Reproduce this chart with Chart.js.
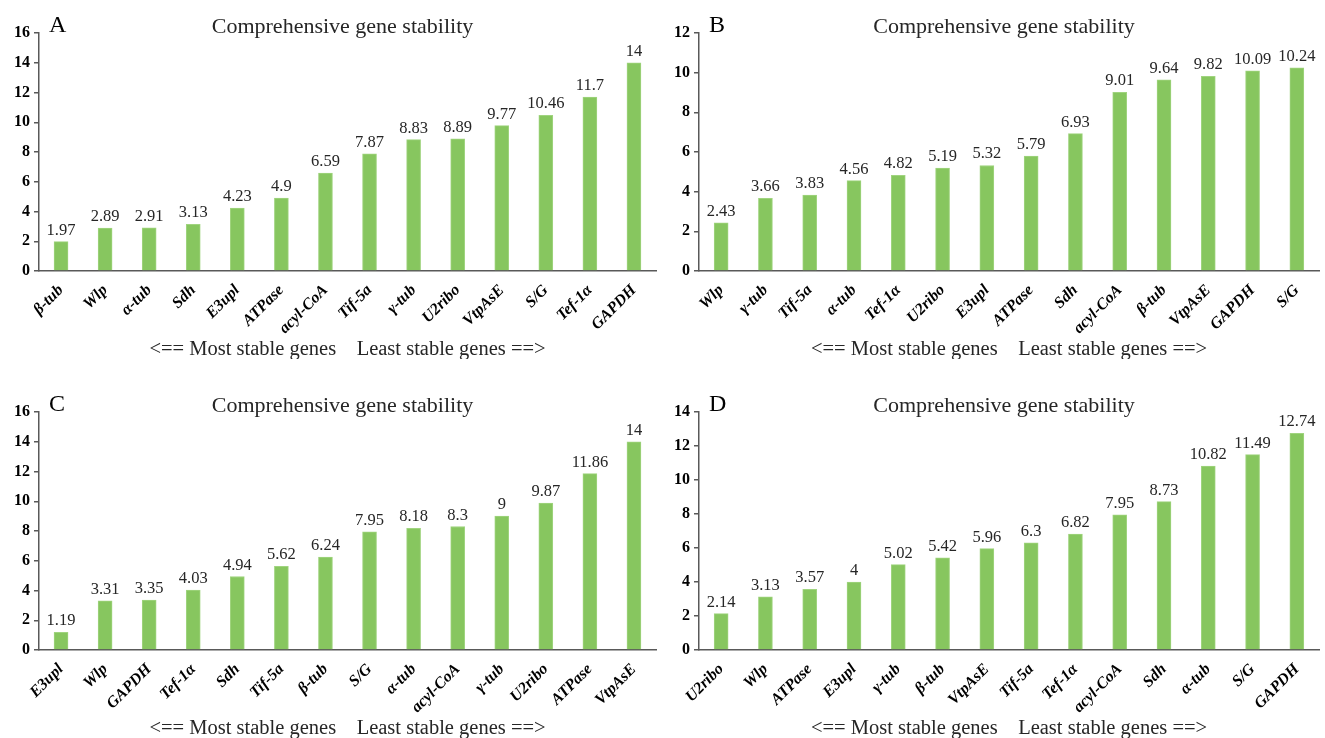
<!DOCTYPE html>
<html><head><meta charset="utf-8">
<script src="https://cdn.jsdelivr.net/npm/chart.js@4/dist/chart.umd.min.js"></script>
<style>
body{margin:0;background:#fff;width:1325px;height:738px;position:relative;overflow:hidden}
.p{position:absolute}
</style></head><body>
<div class="p" style="left:0;top:0;width:662px;height:359px"><canvas id="cA"></canvas></div>
<div class="p" style="left:660px;top:0;width:665px;height:359px"><canvas id="cB"></canvas></div>
<div class="p" style="left:0;top:379px;width:662px;height:359px"><canvas id="cC"></canvas></div>
<div class="p" style="left:660px;top:379px;width:665px;height:359px"><canvas id="cD"></canvas></div>
<script>
const catsA = ['β-tub','Wlp','α-tub','Sdh','E3upl','ATPase','acyl-CoA','Tif-5a','γ-tub','U2ribo','VtpAsE','S/G','Tef-1α','GAPDH'];
const valsA = [1.97,2.89,2.91,3.13,4.23,4.9,6.59,7.87,8.83,8.89,9.77,10.46,11.7,14];
const catsB = ['Wlp','γ-tub','Tif-5a','α-tub','Tef-1α','U2ribo','E3upl','ATPase','Sdh','acyl-CoA','β-tub','VtpAsE','GAPDH','S/G'];
const valsB = [2.43,3.66,3.83,4.56,4.82,5.19,5.32,5.79,6.93,9.01,9.64,9.82,10.09,10.24];
const catsC = ['E3upl','Wlp','GAPDH','Tef-1α','Sdh','Tif-5a','β-tub','S/G','α-tub','acyl-CoA','γ-tub','U2ribo','ATPase','VtpAsE'];
const valsC = [1.19,3.31,3.35,4.03,4.94,5.62,6.24,7.95,8.18,8.3,9,9.87,11.86,14];
const catsD = ['U2ribo','Wlp','ATPase','E3upl','γ-tub','β-tub','VtpAsE','Tif-5a','Tef-1α','acyl-CoA','Sdh','α-tub','S/G','GAPDH'];
const valsD = [2.14,3.13,3.57,4,5.02,5.42,5.96,6.3,6.82,7.95,8.73,10.82,11.49,12.74];
const yMaxA = 16, yMaxB = 12, yMaxC = 16, yMaxD = 14;
const titleText = 'Comprehensive gene stability';
const xTitleText = '<== Most stable genes    Least stable genes ==>';

const SERIF = '"Liberation Serif", "Times New Roman", serif';
const TXT = '#262626';

const valPlugin = {
  id: 'vals',
  afterDatasetsDraw(chart, args, opts) {
    const ctx = chart.ctx;
    const ca = chart.chartArea;
    const meta = chart.getDatasetMeta(0);
    const data = chart.data.datasets[0].data;
    ctx.save();
    ctx.font = '16.5px ' + SERIF;
    ctx.fillStyle = TXT;
    ctx.textAlign = 'center';
    ctx.textBaseline = 'alphabetic';
    meta.data.forEach((bar, i) => {
      ctx.fillText(String(data[i]), bar.x, bar.y - 7);
    });
    ctx.font = '22px ' + SERIF;
    ctx.fillText(titleText, (ca.left + ca.right) / 2 - 5, ca.top);
    ctx.font = '24px ' + SERIF;
    ctx.textAlign = 'left';
    ctx.fillStyle = '#000';
    ctx.fillText(opts.letter, ca.left + 10, ca.top - 1);
    ctx.restore();
  }
};

function makeChart(id, letter, cats, vals, yMax) {
  new Chart(document.getElementById(id), {
    type: 'bar',
    data: {
      labels: cats,
      datasets: [{
        data: vals,
        backgroundColor: '#87c65f',
        borderColor: '#a0d47f',
        borderWidth: 1,
        barThickness: 14
      }]
    },
    plugins: [valPlugin],
    options: {
      responsive: true,
      maintainAspectRatio: false,
      animation: false,
      layout: { padding: { left: 10, right: 6, top: 33, bottom: 0 } },
      plugins: {
        legend: { display: false },
        tooltip: { enabled: false },
        vals: { letter: letter },
        title: { display: false }
      },
      scales: {
        x: {
          afterFit: (scale) => { scale.height = 88; },
          grid: { display: false, drawTicks: false },
          border: { display: true, color: '#595959', width: 1.5 },
          ticks: {
            color: '#000',
            maxRotation: 45, minRotation: 45,
            autoSkip: false,
            padding: 10,
            font: { family: SERIF, size: 16, weight: 'bold', style: 'italic' }
          },
          title: {
            display: true,
            text: xTitleText,
            color: TXT,
            font: { family: SERIF, size: 20.5 },
            padding: { top: 2, bottom: -3 }
          }
        },
        y: {
          min: 0, max: yMax,
          grid: { drawOnChartArea: false, drawTicks: true, tickLength: 5, color: '#595959', lineWidth: 1.5 },
          border: { display: true, color: '#595959', width: 1.5 },
          ticks: {
            stepSize: 2,
            color: '#000',
            padding: 4,
            font: { family: SERIF, size: 16, weight: 'bold' }
          }
        }
      }
    }
  });
}

makeChart('cA', 'A', catsA, valsA, yMaxA);
makeChart('cB', 'B', catsB, valsB, yMaxB);
makeChart('cC', 'C', catsC, valsC, yMaxC);
makeChart('cD', 'D', catsD, valsD, yMaxD);
</script>
</body></html>
